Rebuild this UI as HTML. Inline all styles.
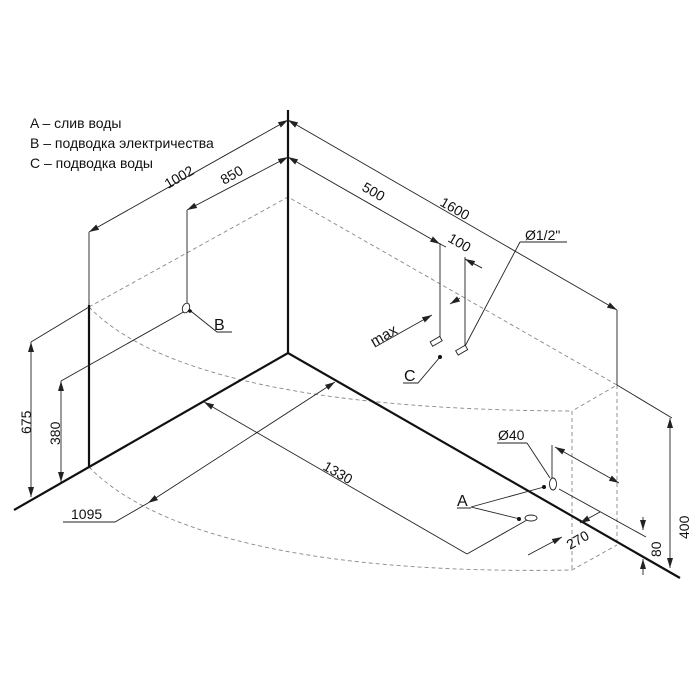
<!DOCTYPE html>
<html><head><meta charset="utf-8"><style>body{margin:0;background:#fff}svg{display:block}</style></head><body>
<svg width="700" height="700" viewBox="0 0 700 700" xmlns="http://www.w3.org/2000/svg" font-family="Liberation Sans, DejaVu Sans, sans-serif">
<defs>
<marker id="a" viewBox="0 0 10 6" refX="10" refY="3" markerWidth="10" markerHeight="6" orient="auto-start-reverse" markerUnits="userSpaceOnUse"><path d="M0,0L10,3L0,6z" fill="#222"/></marker>
</defs>
<g font-size="14" fill="#111">
<text x="30" y="128">A – слив воды</text>
<text x="30" y="148">B – подводка электричества</text>
<text x="30" y="168">C – подводка воды</text>
</g>
<g stroke="#888" stroke-width="0.9" fill="none" stroke-dasharray="4,3">
<path d="M89,307 L288,197 L617,385 L572,411"/>
<path d="M89,307 C150,370 300,410 572,411"/>
<path d="M89,467 C150,530 300,575 572,570 L617,545"/>
<path d="M617,385 V545 M572,411 V570"/>
</g>
<g stroke="#111" stroke-width="2.2" fill="none">
<path d="M288,110 V353 M14,510 L288,353 L680,578 M89,305 V467"/>
</g>
<g stroke="#222" stroke-width="0.9" fill="none">
<path d="M89,305 V232 M187,305 V210 M617,310 V385 M440,243 V340 M465,257 V350"/>
<path d="M89,232 L288,120" marker-start="url(#a)" marker-end="url(#a)"/>
<path d="M288,120 L617,310" marker-start="url(#a)" marker-end="url(#a)"/>
<path d="M187,210 L288,157" marker-start="url(#a)" marker-end="url(#a)"/>
<path d="M288,157 L440,244" marker-start="url(#a)" marker-end="url(#a)"/>
<path d="M440,244 L446,247 M465,259 L482,268"/>
<path d="M482,268 L465,259" marker-end="url(#a)"/>
<path d="M31,342 V497" marker-start="url(#a)" marker-end="url(#a)"/>
<path d="M31,342 L89,307 M61,381 L187,310"/>
<path d="M61,381 V482" marker-start="url(#a)" marker-end="url(#a)"/>
<path d="M204,402 L467,554" marker-start="url(#a)"/>
<path d="M467,554 L527,520"/>
<path d="M148,503 L335,382" marker-start="url(#a)" marker-end="url(#a)"/>
<path d="M148,503 L115,522 H63"/>
<path d="M187,308 L217,332 H232"/>
<path d="M440,357 L418,383 H403"/>
<path d="M375,347 L432,315" marker-end="url(#a)"/>
<path d="M460,298 L450,304" marker-end="url(#a)"/>
<path d="M520,242 H567 M520,242 L463,350"/>
<path d="M497,443 H527 M527,443 L550,478"/>
<path d="M471,507 L544,487 M471,507 L520,519 M457,508 H471"/>
<path d="M552,445 V480"/>
<path d="M555,447 L619,483" marker-start="url(#a)" marker-end="url(#a)"/>
<path d="M559,489 L646,537"/>
<path d="M600,512 L580,523" marker-end="url(#a)"/>
<path d="M528,555 L562,537" marker-end="url(#a)"/>
<path d="M643,517 V530" marker-end="url(#a)"/>
<path d="M643,575 V559" marker-end="url(#a)"/>
<path d="M617,385 L672,418"/>
<path d="M670,418 V568" marker-start="url(#a)" marker-end="url(#a)"/>
</g>
<g stroke="#222" stroke-width="0.9" fill="#fff">
<ellipse cx="186" cy="308" rx="3.5" ry="5" transform="rotate(20 186 308)"/>
<ellipse cx="553" cy="484" rx="3.5" ry="6"/>
<ellipse cx="531" cy="518" rx="6" ry="3"/>
<rect x="431" y="339" width="11" height="5" transform="rotate(-30 436 342)"/>
<rect x="456" y="348" width="11" height="5" transform="rotate(-30 461 350)"/>
</g>
<g fill="#111"><circle cx="190" cy="311" r="1.8"/><circle cx="440" cy="357" r="2"/><circle cx="544" cy="487" r="2"/><circle cx="519" cy="519" r="2"/></g>
<g font-size="14" fill="#111">
<text transform="translate(168,189) rotate(-30)">1002</text>
<text transform="translate(224,185) rotate(-30)">850</text>
<text transform="translate(361,190) rotate(30)">500</text>
<text transform="translate(439,205) rotate(30)">1600</text>
<text transform="translate(447,241) rotate(30)">100</text>
<text transform="translate(374,347) rotate(-30)" font-size="15">max</text>
<text x="525" y="240">Ø1/2"</text>
<text x="498" y="440">Ø40</text>
<text transform="translate(322,469) rotate(30)">1330</text>
<text x="71" y="519">1095</text>
<text transform="translate(31,434) rotate(-90)">675</text>
<text transform="translate(60,445) rotate(-90)">380</text>
<text transform="translate(570,550) rotate(-30)">270</text>
<text transform="translate(661,557) rotate(-90)">80</text>
<text transform="translate(689,539) rotate(-90)">400</text>
<text x="214" y="330" font-size="16">B</text>
<text x="404" y="381" font-size="16">C</text>
<text x="457" y="506" font-size="16">A</text>
</g>
</svg>
</body></html>
